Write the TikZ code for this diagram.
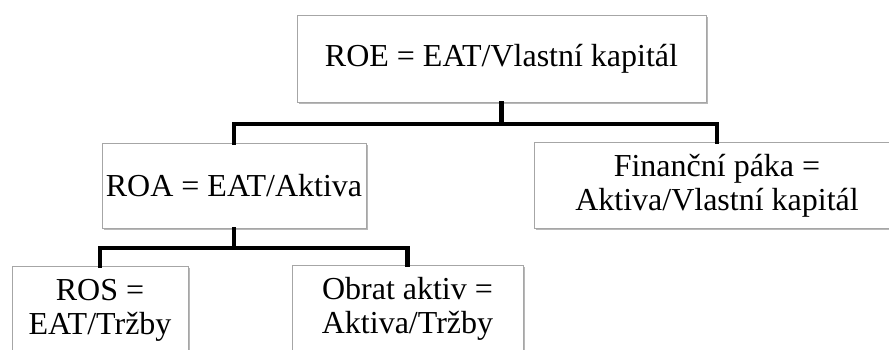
\documentclass[tikz,border=0pt]{standalone}
\usepackage{fontspec}
\setmainfont{Liberation Serif}
\usetikzlibrary{shadows}
\begin{document}
\begin{tikzpicture}[x=1pt,y=-1pt,
  box/.style={draw=gray!70, line width=0.8pt, fill=white, anchor=north,
    align=center, inner sep=0pt, font=\fontsize{32}{34}\selectfont,
    drop shadow={shadow xshift=1.6pt, shadow yshift=-2pt, fill=black, opacity=0.28}},
  conn/.style={line width=4.5pt, black, line join=miter, line cap=rect}]
\useasboundingbox (0,0) rectangle (889,350);
\clip (0,0) rectangle (889,350);
\node[box, minimum width=409pt, minimum height=87pt] (roe) at (501.5,15) {ROE = EAT/Vlastní kapitál};
\node[box, minimum width=264pt, minimum height=85pt] (roa) at (234,143) {ROA = EAT/Aktiva};
\node[box, minimum width=366pt, minimum height=86pt] (fin) at (717,142) {Finanční páka =\\Aktiva/Vlastní kapitál};
\node[box, minimum width=176pt, minimum height=87pt] (ros) at (100,266) {ROS =\\EAT/Tržby};
\node[box, minimum width=231pt, minimum height=87pt] (obr) at (407.5,265) {Obrat aktiv =\\Aktiva/Tržby};
\coordinate (b1) at (0,124);
\coordinate (b2) at (0,248);
\draw[conn] (roe.south) -- (roe.south |- b1);
\draw[conn] (roa.north) -- (roa.north |- b1) -- (fin.north |- b1) -- (fin.north);
\draw[conn] (roa.south) -- (roa.south |- b2);
\draw[conn] (ros.north) -- (ros.north |- b2) -- (obr.north |- b2) -- (obr.north);
\end{tikzpicture}
\end{document}
